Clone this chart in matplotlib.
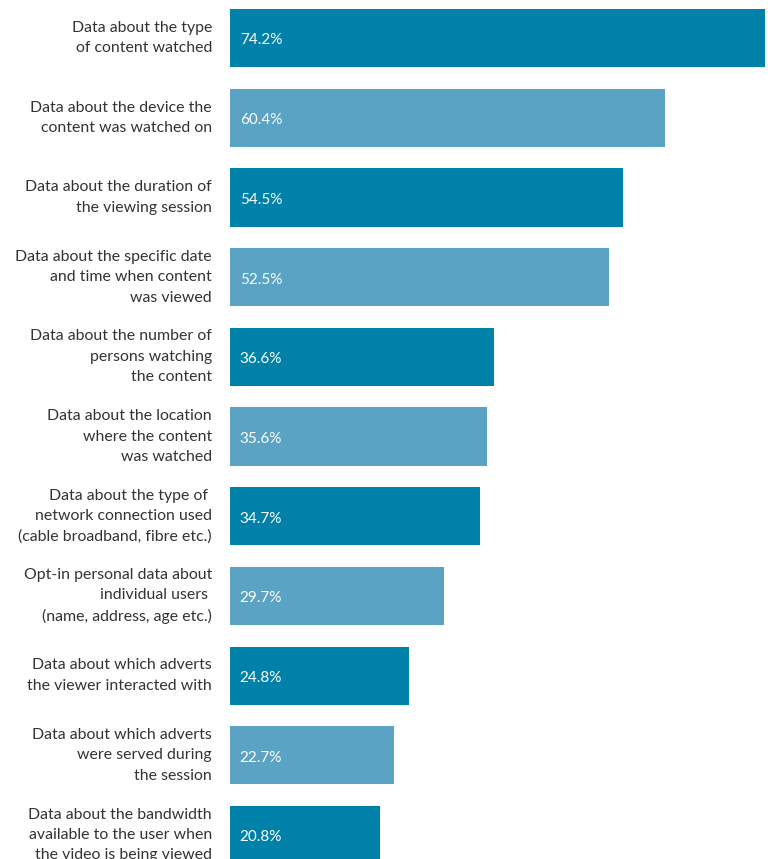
import matplotlib
matplotlib.use('Agg')
import matplotlib.pyplot as plt

labels = [
    'Data about the type\nof content watched',
    'Data about the device the\ncontent was watched on',
    'Data about the duration of\nthe viewing session',
    'Data about the specific date\nand time when content\nwas viewed',
    'Data about the number of\npersons watching\nthe content',
    'Data about the location\nwhere the content\nwas watched',
    'Data about the type of \nnetwork connection used\n(cable broadband, fibre etc.)',
    'Opt-in personal data about\nindividual users \n(name, address, age etc.)',
    'Data about which adverts\nthe viewer interacted with',
    'Data about which adverts\nwere served during\nthe session',
    'Data about the bandwidth\navailable to the user when\nthe video is being viewed',
]
values = [74.2, 60.4, 54.5, 52.5, 36.6, 35.6, 34.7, 29.7, 24.8, 22.7, 20.8]

dark = '#0081a9'
light = '#5aa3c4'
colors = [dark if i % 2 == 0 else light for i in range(len(values))]

plt.rcParams['font.family'] = ['Lato', 'DejaVu Sans']

fig = plt.figure(figsize=(7.68, 8.59), dpi=100)
ax = fig.add_axes([230 / 768, 0, 538 / 768, 1])

ypos = list(range(len(values)))
ax.barh(ypos, values, height=0.73, color=colors)

for y, v, lab in zip(ypos, values, labels):
    ax.text(1.35, y + 0.03, f'{v}%', color='white', fontsize=11, va='center', ha='left')
    ax.text(-2.5, y, lab, color='#333333', fontsize=11.4, va='center', ha='right',
            linespacing=1.58)

ax.set_xlim(0, 538 / 7.21)
ax.set_ylim(10.30, -0.477)
ax.axis('off')

fig.savefig('out.png', dpi=100)
